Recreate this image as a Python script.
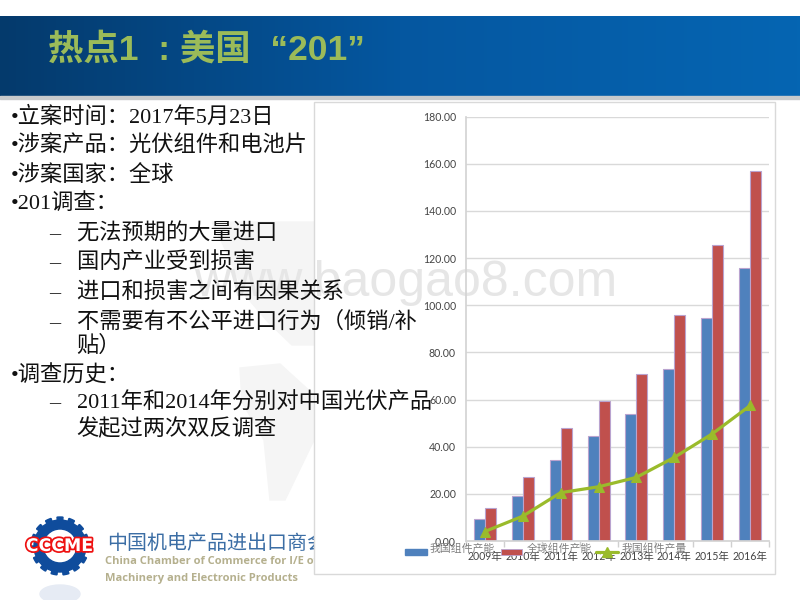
import numpy as np, pandas as pd, matplotlib
matplotlib.use('Agg')
import matplotlib.pyplot as plt, seaborn as sns
import matplotlib.patheffects as pe
from matplotlib.patches import Rectangle, Wedge, Ellipse, Polygon
from matplotlib.ticker import FormatStrFormatter
from matplotlib.colors import LinearSegmentedColormap

years = ['2009年','2010年','2011年','2012年','2013年','2014年','2015年','2016年']
china_capacity = [9.5,19,34.5,44.5,54,73,94.5,116]
world_capacity = [14,27,48,59.5,71,96,125.5,157]
china_output = [4,10.5,20.5,23,27,35.5,45.5,57.5]
series_names = ['我国组件产能','全球组件产能','我国组件产量']
bullets = [('•立案时间：2017年5月23日',11,117),('•涉案产品：光伏组件和电池片',11,146),('•涉案国家：全球',11,175),('•201调查：',11,204),
 ('–   无法预期的大量进口',49,234),('–   国内产业受到损害',49,263),('–   进口和损害之间有因果关系',49,292),('–   不需要有不公平进口行为（倾销/补',49,322),('贴）',76,346),
 ('•调查历史：',11,376),('–   2011年和2014年分别对中国光伏产品',49,403),('发起过两次双反调查',76,429)]

sns.set_theme(style='white')
SANS = ['Liberation Sans','Noto Sans CJK SC']
SERIF = ['Liberation Serif','Noto Sans CJK SC']
LATO = ['Lato','Noto Sans CJK SC']
plt.rcParams['font.family'] = ['Noto Sans CJK SC','DejaVu Sans']
fig = plt.figure(figsize=(8,6),dpi=100,facecolor='white')
bg = fig.add_axes([0,0,1,1]); bg.axis('off')
grad = np.linspace(0,1,256)[None,:]
cm = LinearSegmentedColormap.from_list('h',['#043A6C','#0557A0','#0565B2'])
bg.imshow(grad,extent=[0,800,96,16],cmap=cm,aspect='auto',zorder=1)
bg.set_xlim(0,800); bg.set_ylim(600,0)
bg.add_patch(Rectangle((0,96),800,2.5,color='#C8CACC',zorder=1))
bg.text(48,50,'热点1  : 美国  “201”',color='#9BBB59',fontsize=25.5,fontweight='bold',va='center',zorder=2,family=SANS)
# faint world map behind the slide
bg.add_patch(Polygon([(212,222),(314,222),(314,345),(292,345),(268,322),(245,295),(228,255)],color='#F5F5F5',zorder=1))
bg.add_patch(Polygon([(240,368),(280,364),(314,395),(314,440),(285,500),(270,500),(264,440),(242,402)],color='#F5F5F5',zorder=1))
# logo
bg.add_patch(Wedge((60,546),26,0,360,width=9,color='#0F4C9C',zorder=2))
for a in np.arange(0,360,24):
    bg.add_patch(Wedge((60,546),29,a,a+12,width=6,color='#0F4C9C',zorder=2))
bg.add_patch(Ellipse((60,594),40,18,color='#E6EBF4',zorder=2))
bg.text(59.5,546,'CCCME',color='white',fontsize=12.5,fontweight='bold',ha='center',va='center',zorder=4,family='DejaVu Sans',
        path_effects=[pe.withStroke(linewidth=2.5,foreground='#EE1111')])
bg.text(107,543,'中国机电产品进出口商会',color='#3C6EA5',fontsize=14.4,va='center',zorder=2,family=SANS)
bg.text(105,562,'China Chamber of Commerce for I/E of',color='#B5B08E',fontsize=8.05,fontweight='bold',va='center',zorder=2,family='Open Sans')
bg.text(105,578,'Machinery and Electronic Products',color='#B5B08E',fontsize=8.05,fontweight='bold',va='center',zorder=2,family='Open Sans')
bg.add_patch(Rectangle((313.5,101.5),461,472,fc='white',ec='#D9D9D9',lw=1,zorder=3))
bg.text(194,283,'www.baogao8.com',fontsize=36,color='#E6E6E6',va='center',zorder=3.5,family='Liberation Sans')
for t,x,y in bullets:
    bg.text(x,y,t,fontsize=16,va='center',color='#111111',zorder=4,family=SERIF)

left,right,top,bot = 465.7,769.3,116.7,541
ax = fig.add_axes([left/800,1-bot/600,(right-left)/800,(bot-top)/600],zorder=5)
ax.patch.set_alpha(0)
df = pd.DataFrame({'year':years*2,'v':china_capacity+world_capacity,'s':[series_names[0]]*8+[series_names[1]]*8})
sns.barplot(data=df,x='year',y='v',hue='s',palette=['#4F81BD','#C0504D'],width=0.58,dodge=True,gap=0,ax=ax,legend=False,
            edgecolor='#B9A3CF',linewidth=0.8,saturation=1)
LINE = '#9ABB2B'
sns.lineplot(x=np.arange(8),y=china_output,color=LINE,lw=2.3,marker='^',ms=6.5,mec=LINE,ax=ax,legend=False,zorder=5)
ax.set_xlim(-.5,7.5); ax.set_ylim(0,180)
ax.set_yticks(np.arange(0,181,20)); ax.yaxis.set_major_formatter(FormatStrFormatter('%.2f'))
ax.grid(axis='y',color='#D9D9D9',lw=1); ax.set_axisbelow(True)
ax.set_xlabel(''); ax.set_ylabel('')
for s in ['top','right']: ax.spines[s].set_visible(False)
for s in ['left','bottom']:
    ax.spines[s].set_color('#D4D4D4')
ax.set_xticks(np.arange(-.5,8,1),minor=True)
ax.tick_params(axis='x',which='minor',length=4,color='#D0D0D0',direction='out',bottom=True)
ax.tick_params(axis='x',which='major',length=0,labelsize=7.6,pad=7.5,labelcolor='#444444')
ax.tick_params(axis='y',length=0,labelsize=7.6,pad=7,labelcolor='#444444')
for lab in ax.get_xticklabels()+ax.get_yticklabels():
    lab.set_family(LATO)
# legend, overlapping the tick labels as in the slide
lx = fig.add_axes([0,0,1,1],zorder=6); lx.set_xlim(0,800); lx.set_ylim(600,0); lx.axis('off')
lx.add_patch(Rectangle((405,549),22,6,color='#4F81BD'))
lx.text(430,549,series_names[0],fontsize=7.8,color='#808080',va='center')
lx.add_patch(Rectangle((501,549),21,6,fc='#C0504D',ec='#B9A3CF',lw=.6))
lx.text(527,549,series_names[1],fontsize=7.8,color='#808080',va='center')
lx.plot([596,618],[552,552],color=LINE,lw=2.3)
lx.plot([607],[552],color=LINE,marker='^',ms=6.5)
lx.text(622,549,series_names[2],fontsize=7.8,color='#808080',va='center')
fig.savefig('out.png',dpi=100)
